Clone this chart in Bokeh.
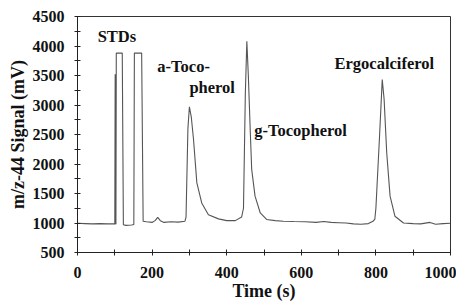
from bokeh.plotting import figure
from bokeh.models import FixedTicker, Range1d, Label
from bokeh.embed import file_html
from bokeh.resources import INLINE

# Chromatogram trace (time in s, m/z-44 signal in mV)
time_s = [0, 20, 40, 60, 80, 100, 101, 102, 103, 104, 120, 123, 130, 145, 151, 152.5, 172, 176,
          185, 200, 208, 215, 222, 232, 250, 270, 288, 291, 296, 300, 305, 311, 320, 333, 351,
          378, 400, 423, 440, 445, 450, 454, 458, 463, 467, 476, 490, 507, 530, 552, 580, 610,
          640, 660, 680, 700, 720, 740, 760, 780, 792, 797, 800, 810, 817, 822, 829, 838, 851,
          874, 900, 920, 945, 960, 980, 1000]
signal_mv = [995, 990, 985, 990, 985, 985, 3520, 985, 985, 3880, 3880, 970, 960, 965, 975, 3880, 3880, 1030,
             1020, 1010, 1040, 1095, 1040, 1010, 1020, 1015, 1030, 1100, 2600, 2970, 2800, 2420, 1680, 1340, 1140,
             1070, 1040, 1040, 1100, 1250, 3200, 4080, 3500, 2590, 1910, 1455, 1170, 1060, 1040, 1030, 1025, 1020,
             1010, 1025, 1010, 1005, 1000, 985, 980, 990, 1030, 1060, 1250, 2500, 3430, 3100, 2190, 1455, 1115,
             1000, 990, 985, 1010, 980, 990, 995]

x_major = [0, 200, 400, 600, 800, 1000]
x_minor = [100, 300, 500, 700, 900]
y_major = [500, 1000, 1500, 2000, 2500, 3000, 3500, 4000, 4500]
y_minor = [750, 1250, 1750, 2250, 2750, 3250, 3750, 4250]

label_text = ["STDs", "a-Toco-", "pherol", "g-Tocopherol", "Ergocalciferol"]
label_x = [54, 214, 300, 474, 689]
label_y = [4160, 3650, 3300, 2570, 3710]

FONT = "Liberation Serif"

p = figure(frame_width=373, frame_height=236,
           x_range=Range1d(0, 1000), y_range=Range1d(500, 4500),
           output_backend="svg", toolbar_location=None,
           min_border_left=77, min_border_right=6, min_border_top=16, min_border_bottom=44)

p.line(time_s, signal_mv, line_color="#555555", line_width=1.1)

for t, lx, ly in zip(label_text, label_x, label_y):
    p.add_layout(Label(x=lx, y=ly, text=t, text_font=FONT, text_font_style="bold",
                       text_font_size="16.5px", text_color="#111111",
                       text_align="left", text_baseline="middle"))

p.xgrid.visible = False
p.ygrid.visible = False
p.outline_line_color = "#333333"
p.outline_line_width = 1

p.xaxis.ticker = FixedTicker(ticks=x_major, minor_ticks=x_minor)
p.yaxis.ticker = FixedTicker(ticks=y_major, minor_ticks=y_minor)

for ax in (p.xaxis[0], p.yaxis[0]):
    ax.axis_line_color = "#222222"
    ax.major_tick_line_color = "#222222"
    ax.minor_tick_line_color = "#222222"
    ax.major_tick_in = 3
    ax.major_tick_out = 3
    ax.minor_tick_in = 3
    ax.minor_tick_out = 3
    ax.major_label_text_font = FONT
    ax.major_label_text_font_style = "bold"
    ax.major_label_text_font_size = "16px"
    ax.major_label_text_color = "#111111"
    ax.axis_label_text_font = FONT
    ax.axis_label_text_font_style = "bold"
    ax.axis_label_text_font_size = "18px"
    ax.axis_label_text_color = "#111111"

p.xaxis.axis_label = "Time (s)"
p.yaxis.axis_label = "m/z-44 Signal (mV)"
p.xaxis.major_label_standoff = 11
p.yaxis.major_label_standoff = 10
p.xaxis.axis_label_standoff = 0
p.yaxis.axis_label_standoff = 2

open("out.html", "w").write(file_html(p, INLINE))
